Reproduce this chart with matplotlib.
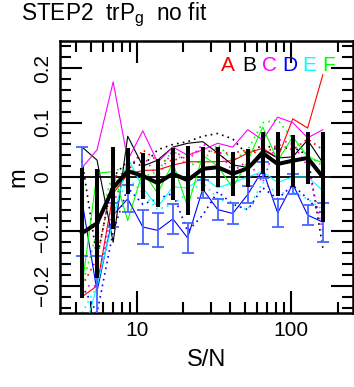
import matplotlib
matplotlib.use("Agg")
import matplotlib.pyplot as plt
from matplotlib.ticker import FixedLocator, NullFormatter

plt.rcParams['font.family'] = ['Liberation Sans', 'DejaVu Sans']
plt.rcParams['mathtext.fontset'] = 'custom'
plt.rcParams['mathtext.rm'] = 'Liberation Sans'
plt.rcParams['mathtext.it'] = 'Liberation Sans'

# ---------------- data ----------------
sn = [4.4, 5.5, 7.0, 8.7, 10.9, 13.6, 17.1, 21.3, 26.7, 33.4, 41.8, 52.3, 65.4, 81.8, 102.5, 128.0, 160.6]

mean_m   = [-0.103, -0.085, -0.020, 0.011, 0.002, -0.011, 0.006, -0.006, 0.015, 0.018, 0.006, 0.016, 0.044, 0.024, 0.030, 0.035, 0.000]
mean_err = [0.120, 0.100, 0.075, 0.043, 0.043, 0.045, 0.048, 0.063, 0.040, 0.037, 0.040, 0.035, 0.039, 0.058, 0.048, 0.047, 0.082]

A_solid = [-0.22, -0.20, -0.03, 0.005, 0.012, 0.013, 0.022, 0.028, 0.028, 0.028, 0.030, 0.044, 0.053, 0.035, 0.107, 0.090, 0.188]
A_dot   = [-0.20, -0.15, 0.000, 0.010, 0.050, 0.030, 0.030, 0.040, 0.050, 0.044, 0.044, 0.050, 0.040, 0.060, 0.050, 0.070, 0.050]
B_solid = [0.055, 0.031, -0.12, 0.075, 0.020, 0.031, 0.055, 0.062, 0.065, 0.044, 0.022, 0.018, 0.050, 0.035, 0.037, 0.068, 0.026]
B_dot   = [0.030, -0.15, 0.000, 0.030, 0.020, 0.050, 0.060, 0.065, 0.075, 0.080, 0.070, 0.040, 0.060, 0.050, 0.055, 0.040, -0.13]
C_solid = [0.017, 0.050, 0.175, 0.031, 0.085, 0.027, 0.055, 0.040, 0.050, 0.062, 0.055, 0.087, 0.068, 0.110, 0.100, 0.072, 0.087]
C_dot   = [-0.20, -0.20, -0.05, 0.020, 0.040, 0.000, 0.050, 0.030, 0.060, 0.050, 0.010, 0.030, -0.01, 0.070, 0.060, 0.020, -0.10]
D_solid = [-0.045, -0.210, -0.070, -0.040, -0.092, -0.098, -0.077, -0.112, -0.022, -0.060, -0.067, -0.032, 0.013, -0.066, -0.013, -0.070, -0.083]
D_err   = [0.100, 0.065, 0.022, 0.025, 0.031, 0.031, 0.028, 0.028, 0.016, 0.019, 0.019, 0.015, 0.015, 0.025, 0.018, 0.018, 0.036]
D_dot   = [-0.20, -0.25, -0.10, -0.02, -0.05, -0.04, -0.03, -0.10, -0.07, -0.027, -0.05, -0.06, -0.02, -0.04, -0.015, -0.04, -0.07]
E_solid = [-0.30, -0.20, -0.08, 0.035, -0.02, -0.055, -0.018, -0.02, 0.00, -0.02, -0.01, 0.00, 0.01, -0.01, 0.00, 0.00, -0.025]
E_dot   = [-0.25, -0.20, -0.07, 0.000, -0.03, -0.06, -0.05, -0.03, -0.01, -0.04, -0.05, -0.06, -0.01, -0.03, -0.028, -0.04, -0.06]
F_solid = [-0.20, 0.007, 0.010, -0.080, 0.010, -0.030, 0.026, -0.055, 0.040, 0.020, -0.020, 0.030, 0.092, 0.030, 0.074, 0.037, 0.026]
F_dot   = [-0.20, -0.10, 0.010, 0.020, 0.000, 0.010, 0.050, 0.020, 0.030, 0.060, 0.030, 0.050, 0.100, 0.105, 0.070, 0.040, 0.020]

labels = ['A', 'B', 'C', 'D', 'E', 'F']
colors = ['#ff0000', '#000000', '#ff00ff', '#0000ff', '#00ffff', '#00ff00']
solids = [A_solid, B_solid, C_solid, D_solid, E_solid, F_solid]
dots   = [A_dot, B_dot, C_dot, D_dot, E_dot, F_dot]

xticks_major = [10, 100]
xtick_labels = ['10', '100']
yticks_major = [-0.2, -0.1, 0, 0.1, 0.2]
ytick_labels = ['\u22120.2', '\u22120.1', '0', '0.1', '0.2']

# ---------------- figure ----------------
fig = plt.figure(figsize=(3.54, 3.87), dpi=100)
ax = fig.add_axes([0.1695, 0.1912, 0.827, 0.7028])

ax.axhline(0, color='black', lw=1.3, zorder=1)

for col, ys in zip(colors, dots):
    ax.plot(sn, ys, color=col, lw=1.2, linestyle=(0, (1, 2.5)), zorder=2)
for col, ys in zip(colors, solids):
    ax.plot(sn, ys, color=col, lw=0.8, zorder=3)

ax.errorbar(sn, D_solid, yerr=D_err, fmt='none', ecolor='#4a66ff', elinewidth=1.3,
            capsize=4, capthick=1.3, zorder=4)

ax.errorbar(sn, mean_m, yerr=mean_err, color='black', lw=2.9, elinewidth=2.9,
            capsize=0, zorder=5)

ax.set_xscale('log')
ax.set_xlim(10**0.5, 10**2.4)
ax.set_ylim(-0.25, 0.25)

ax.xaxis.set_major_locator(FixedLocator(xticks_major))
ax.set_xticklabels(xtick_labels)
minor_x = [4, 5, 6, 7, 8, 9, 20, 30, 40, 50, 60, 70, 80, 90, 200]
ax.xaxis.set_minor_locator(FixedLocator(minor_x))
ax.xaxis.set_minor_formatter(NullFormatter())

ax.yaxis.set_major_locator(FixedLocator(yticks_major))
ax.set_yticklabels(ytick_labels, rotation=90, va='center')
minor_y = [round(-0.24 + 0.02 * i, 2) for i in range(25)]
ax.yaxis.set_minor_locator(FixedLocator(minor_y))

ax.tick_params(which='both', direction='in', top=True, right=True, width=1.5,
               labelsize=15, colors='black')
ax.tick_params(which='major', length=16, pad=6)
ax.tick_params(which='minor', length=8)
ax.tick_params(axis='y', pad=6)
for s in ax.spines.values():
    s.set_linewidth(1.8)

ax.set_xlabel('S/N', fontsize=17, labelpad=6)
ax.set_ylabel('m', fontsize=17, labelpad=2)

fig.text(0.058, 0.963, r'STEP2  trP$_{\rm g}$  no fit', fontsize=16.3, ha='left', va='center')

xs_leg = [0.645, 0.703, 0.762, 0.818, 0.873, 0.929]
for lab, col, xl in zip(labels, colors, xs_leg):
    fig.text(xl, 0.832, lab, color=col, fontsize=15, ha='center', va='center')

fig.savefig('out.png', dpi=100)
